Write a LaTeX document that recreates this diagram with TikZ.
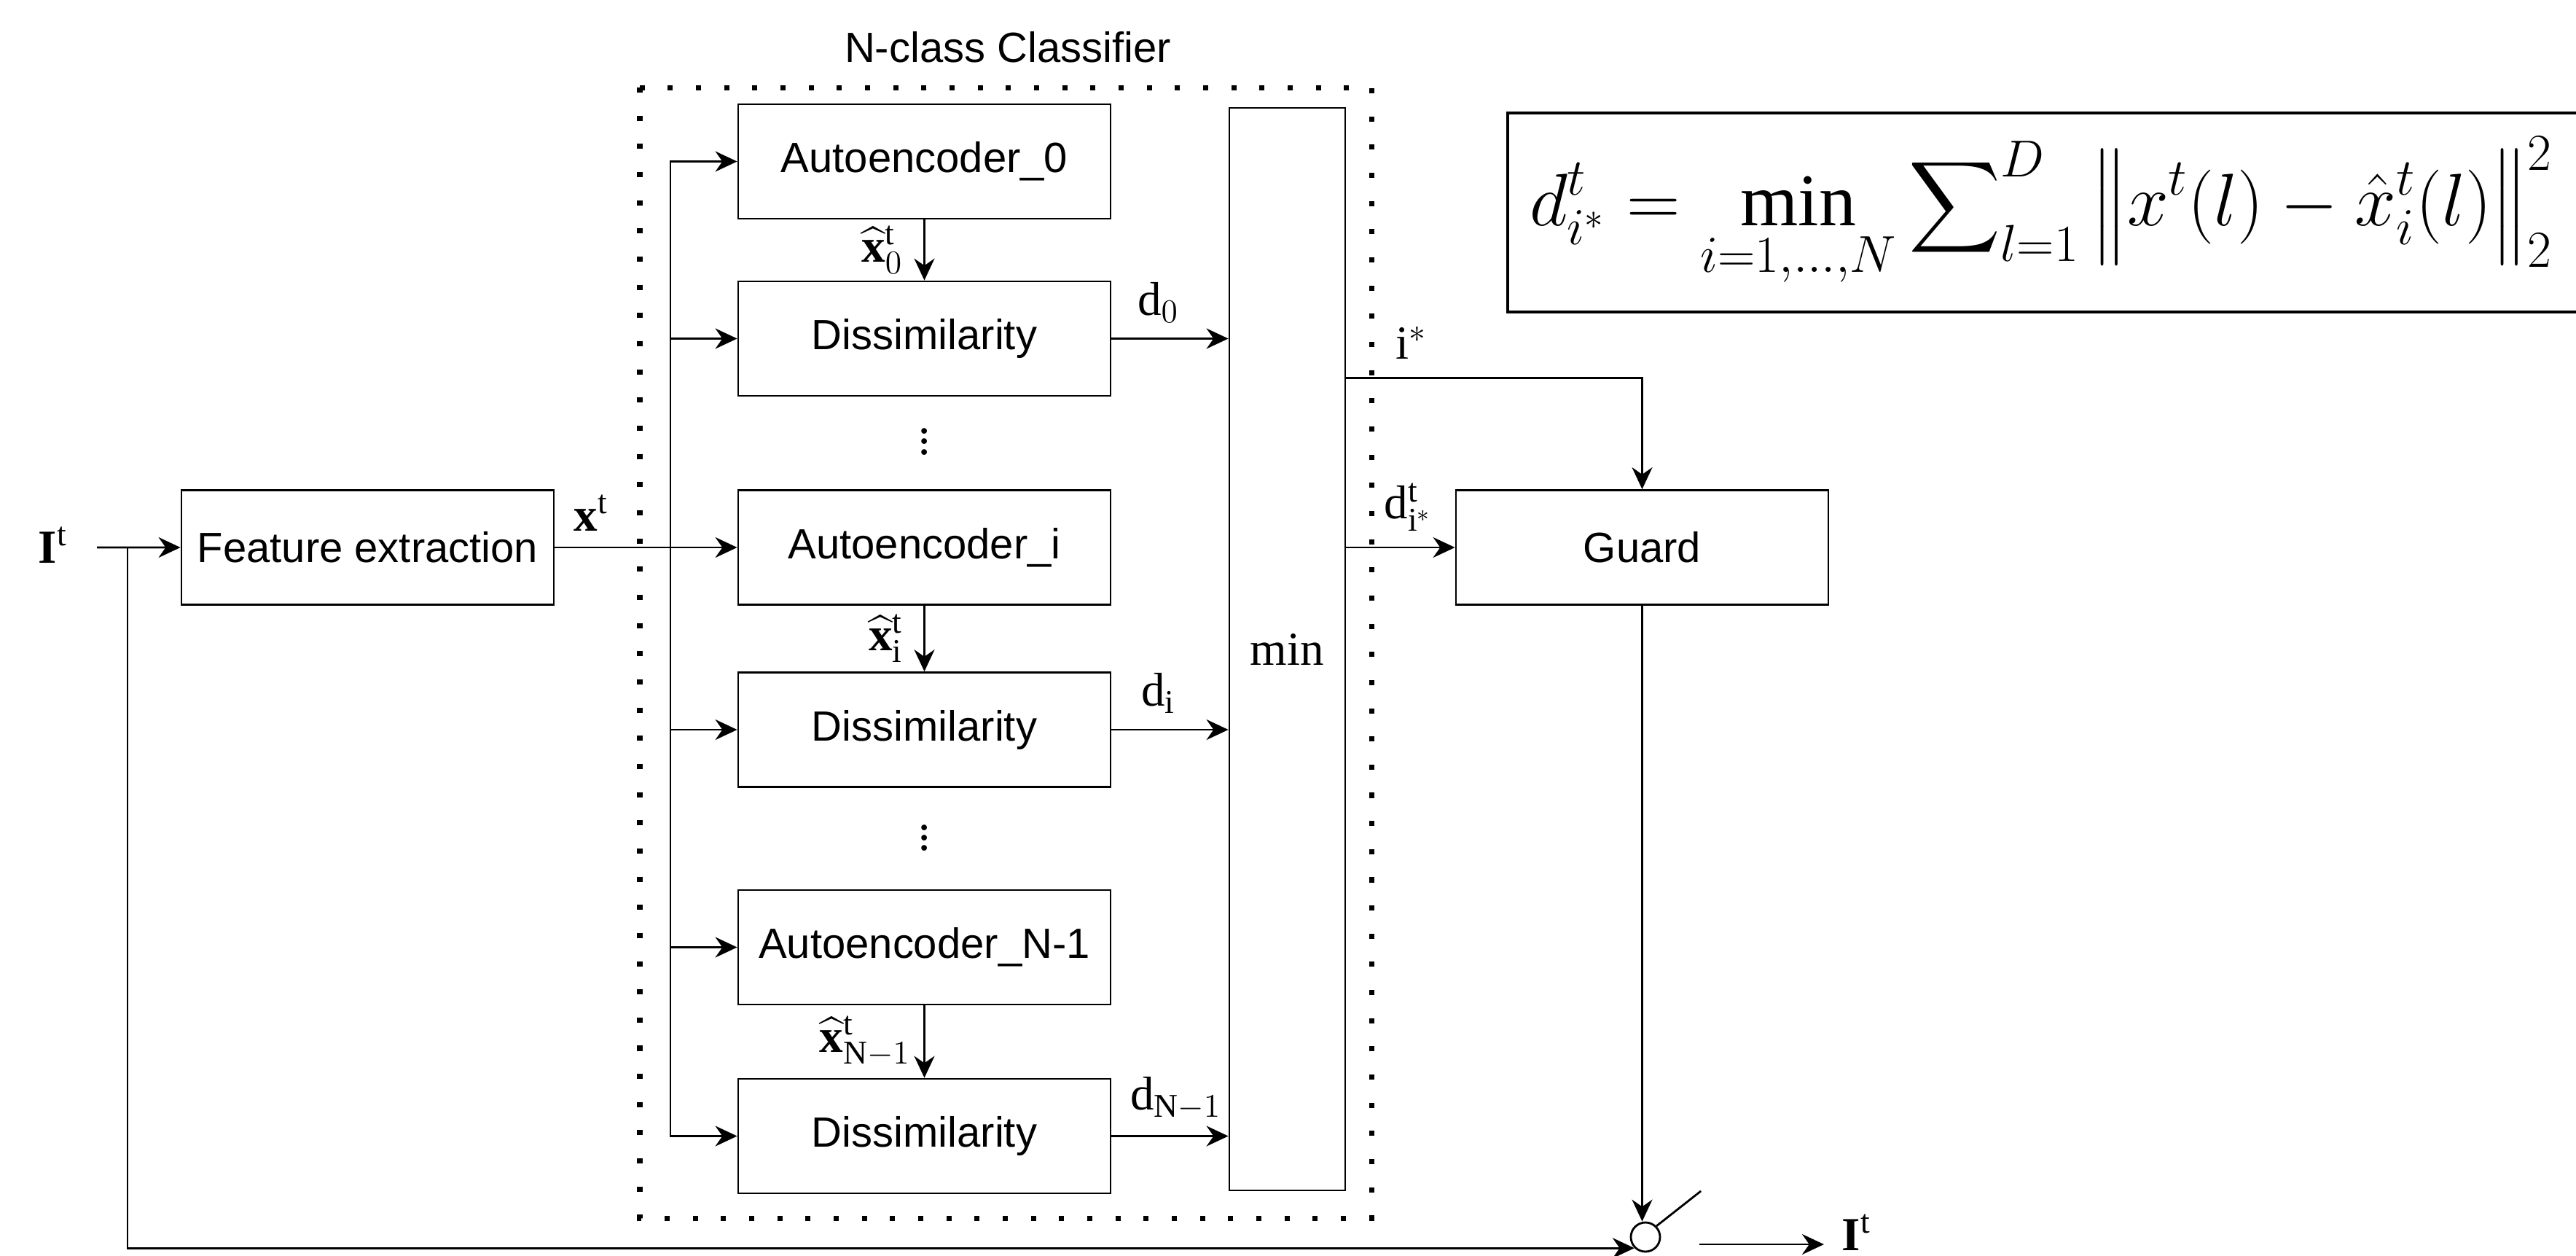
\RequirePackage{fix-cm}
\documentclass[tikz,border=0pt]{standalone}
\usepackage{amsmath}
\usepackage{fontspec}
\setmainfont{Liberation Serif}
\setsansfont{Liberation Sans}
\usepackage{tikz}
\usetikzlibrary{arrows.meta}

\begin{document}
\begin{tikzpicture}[node distance=2.5cm, >={Stealth[length=3mm, width=2.8mm]},
	block/.style={draw, thick, rectangle, align=center, minimum width=5.11cm, minimum height=1.57cm, font=\fontsize{16.5}{20}\selectfont\sffamily},
	lbl/.style={inner sep=2pt, font=\fontsize{18.5}{22}\selectfont}]

	\useasboundingbox (0,0) rectangle (35.35,-17.22);

	% classifier bank
	\node[block] (ae0) at (12.685,-2.215) {Autoencoder\_0};
	
	\node[block, below of= ae0, yshift = .07cm] (ds0) {Dissimilarity};
	
	\node[lbl, below of= ds0, yshift = 1.19cm] (vd1) {$\vdots$};
	
	\node[block, below of= ds0, yshift = -.365cm] (aei) {Autoencoder\_i};
	
	\node[block, below of= aei] (dsi) {Dissimilarity};
	
	\node[lbl, below of= dsi, yshift = 1.12cm] (vd2) {$\vdots$};
	
	\node[block, below of= dsi, yshift = -.485cm] (aen) {Autoencoder\_N-1};
	
	\node[block, below of= aen, yshift = -.09cm] (dsn) {Dissimilarity};
	
	\node[lbl, draw, thick, rectangle, minimum width = 1.59cm, minimum height = 14.85cm] (min) at (17.665,-8.905) {min};
	
	\draw[line width = 2pt, dash pattern = on 2pt off 9pt] (8.78,-1.20) rectangle (18.82,-16.71);
	
	\node[anchor = base, font = \fontsize{16.5}{20}\selectfont\sffamily] (title) at (13.83,-.85) {N-class Classifier};
	
	% input side and guard
	\node[block, left of= aei, xshift = -5.14cm] (fe) {Feature extraction};
	
	\node[block, right of= aei, xshift = 7.35cm] (guard) {Guard};
	
	\node[lbl, anchor = base west] (itin) at (.45,-7.72) {$\mathbf{I}^{\mathrm{t}}$};
	
	\node[draw, thick, circle, minimum size = .40cm, inner sep = 0] (sw) at (22.58,-16.97) {};
	
	\node[lbl, inner xsep = .24cm, anchor = base west] (itout) at (25.03,-17.15) {$\mathbf{I}^{\mathrm{t}}$};
	
	\node[draw, very thick, anchor = north west, minimum height = 2.73cm, text width = 14.6cm, inner xsep = .3cm, align = left, font = \fontsize{29}{34}\selectfont] (eqn) at (20.67,-1.53) {$\displaystyle d_{i^{*}}^{t} = \min_{i=1,\dots,N} \sum\nolimits_{l=1}^{D} \big\| x^{t}(l) - \hat{x}_{i}^{t}(l) \big\|_{2}^{2}$};
	
	\coordinate (in) at (1.33,-7.51);
	\coordinate (fb) at (1.75,-7.51);
	\coordinate (bus) at (9.20,-7.51);
	\coordinate (out) at (23.32,-17.07);
	
	\draw[->, thick] (in) -- (fe);
	
	\draw[->, thick] (fe) -- node[lbl, pos = .2, above = 4pt] {$\mathbf{x}^{\mathrm{t}}$} (aei);
	
	\draw[->, thick] (bus) |- (ae0);
	
	\draw[->, thick] (bus |- ds0) -- (ds0);
	
	\draw[->, thick] (bus |- dsi) -- (dsi);
	
	\draw[->, thick] (bus |- aen) -- (aen);
	
	\draw[->, thick] (bus) |- (dsn);
	
	\draw[->, thick] (ae0) -- node[lbl, left = 6pt] {$\widehat{\mathbf{x}}^{\mathrm{t}}_{0}$} (ds0);
	
	\draw[->, thick] (aei) -- node[lbl, left = 6pt] {$\widehat{\mathbf{x}}^{\mathrm{t}}_{\mathrm{i}}$} (dsi);
	
	\draw[->, thick] (aen) -- node[lbl, left = 3pt] {$\widehat{\mathbf{x}}^{\mathrm{t}}_{\mathrm{N}-1}$} (dsn);
	
	\draw[->, thick] (ds0) -- node[lbl, pos = .4, above = 4pt] {$\mathrm{d}_{0}$} (ds0 -| min.west);
	
	\draw[->, thick] (dsi) -- node[lbl, pos = .4, above = 4pt] {$\mathrm{d}_{\mathrm{i}}$} (dsi -| min.west);
	
	\draw[->, thick] (dsn) -- node[lbl, pos = .55, above = 4pt] {$\mathrm{d}_{\mathrm{N}-1}$} (dsn -| min.west);
	
	\draw[->, thick] ([yshift = -3.72cm]min.north east) -| node[lbl, pos = .11, above = 5pt] {$\mathrm{i}^{*}$} (guard);
	
	\draw[->, thick] (min.east |- guard) -- node[lbl, pos = .57, above = 4pt] {$\mathrm{d}^{\mathrm{t}}_{\mathrm{i}^{*}}$} (guard);
	
	% output switch
	\draw[->, thick] (guard) -- (guard |- sw.north);
	
	\draw[->, thick] (fb) |- (sw.south west);
	
	\draw[thick] (sw.north east) -- ++(.61,.48);
	
	\draw[->, thick] (out) -- (out -| itout.west);
\end{tikzpicture}
\end{document}
